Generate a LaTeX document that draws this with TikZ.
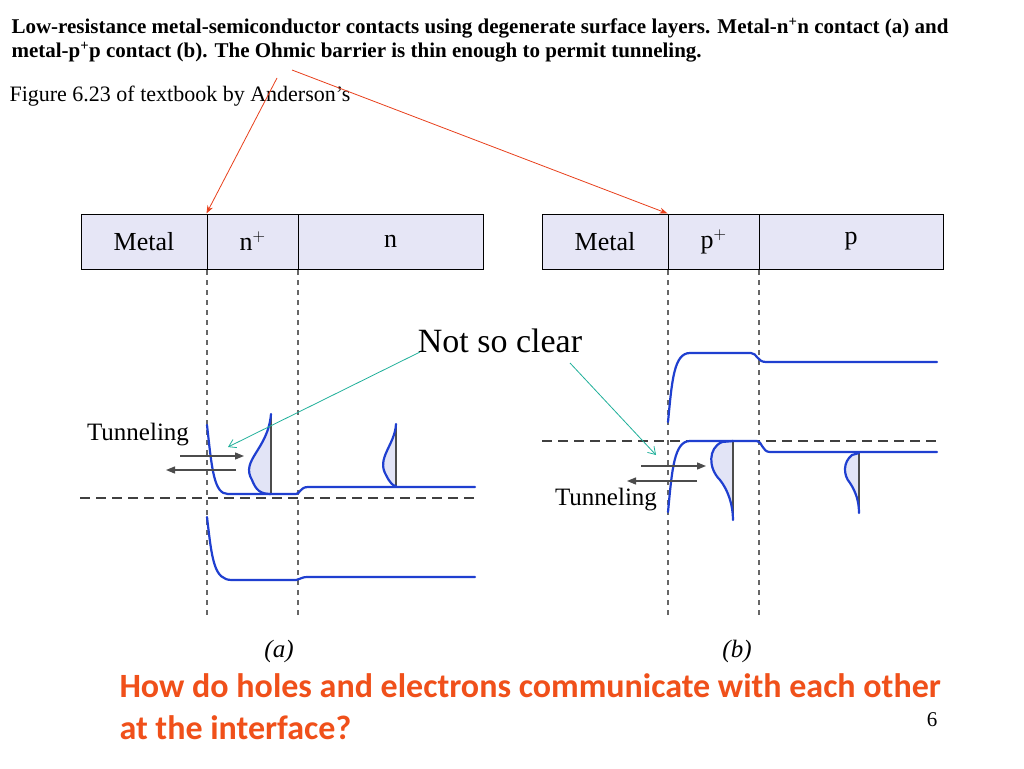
\documentclass[tikz,border=0pt]{standalone}
\usepackage{fontspec}
\setmainfont{Liberation Serif}
\newfontfamily\calib{Carlito}
\usetikzlibrary{arrows.meta}
\definecolor{band}{HTML}{1F3FD0}
\definecolor{tealc}{HTML}{20B09A}
\definecolor{redc}{HTML}{E8401C}
\definecolor{qcol}{HTML}{F0501A}
\definecolor{fillb}{HTML}{E2E4F6}
\definecolor{boxf}{HTML}{E6E6F6}
\tikzset{
 bnd/.style={band,line width=2.2pt,line cap=round},
 vdash/.style={gray!80!black,dashed,line width=1.2pt,dash pattern=on 5pt off 5pt},
 fdash/.style={black!75,line width=1.5pt,dash pattern=on 10pt off 6pt},
 tarr/.style={black!70,line width=1.3pt,-{Triangle[length=9pt,width=7pt]}},
 lbl/.style={font=\fontsize{25}{27}\selectfont},
 cell/.style={draw,line width=1pt,fill=boxf,minimum height=55pt,inner sep=0pt,font=\fontsize{26}{28}\selectfont},
}
\begin{document}
\begin{tikzpicture}[x=1pt,y=-1pt]
\useasboundingbox (0,0) rectangle (1024,768);
\fill[white] (0,0) rectangle (1024,768);
% title
\node[anchor=west,font=\bfseries\fontsize{21}{23}\selectfont] (t1) at (8,28) {Low-resistance metal-semiconductor contacts using degenerate surface layers. Metal-n\textsuperscript{+}n contact (a) and};
\node[anchor=west,font=\bfseries\fontsize{21}{23}\selectfont] (t2) at (8,52) {metal-p\textsuperscript{+}p contact (b). The Ohmic barrier is thin enough to permit tunneling.};
\node[anchor=west,font=\fontsize{22}{24}\selectfont] (t3) at (6,96) {Figure 6.23 of textbook by Anderson's};
% boxes
\node[cell,minimum width=126pt] (m1) at (144,241.5) {Metal};
\node[cell,minimum width=91pt] (np) at (252.5,241.5) {n$^+$};
\node[cell,minimum width=185pt] (n) at (390.5,241.5) {n};
\node[cell,minimum width=126pt] (m2) at (605,241.5) {Metal};
\node[cell,minimum width=91pt] (pp) at (713.5,241.5) {p$^+$};
\node[cell,minimum width=184pt] (p) at (851,241.5) {p};
% dashed verticals
\foreach \x in {207,298,668,759} \draw[vdash] (\x,270) -- (\x,615);
% left band diagram
\draw[fdash] (80,498) -- (477,498);
\fill[fillb] (271,414) .. controls (268,450) and (240,460) .. (252,480) .. controls (256,490) and (260,494) .. (271,494) -- cycle;
\fill[fillb] (396,424) .. controls (395,445) and (376,458) .. (386,475) .. controls (390,483) and (393,486) .. (396,486) -- cycle;
\draw[black!70,line width=1.2pt] (271,414) -- (271,494);
\draw[black!70,line width=1.2pt] (396,424) -- (396,486);
\draw[bnd] (271,414) .. controls (268,450) and (240,460) .. (252,480) .. controls (256,490) and (260,494) .. (271,494);
\draw[bnd] (396,424) .. controls (395,445) and (376,458) .. (386,475) .. controls (390,483) and (393,486) .. (396,486);
\draw[bnd] (207,425) .. controls (212,470) and (214,494) .. (228,494) -- (296,494) .. controls (300,494) and (300,487) .. (308,487) -- (475,487);
\draw[bnd] (207,517) .. controls (212,560) and (214,580) .. (232,580) -- (296,580) .. controls (300,580) and (300,577) .. (308,577) -- (475,577);
\node[lbl] (tl) at (138,435) {Tunneling};
\coordinate (a1s) at (180,456); \coordinate (a1e) at (244,456);
\coordinate (a2s) at (236,470); \coordinate (a2e) at (166,470);
\draw[tarr] (a1s) -- (a1e);
\draw[tarr] (a2s) -- (a2e);
% right band diagram
\draw[fdash] (542,441) -- (937,441);
\fill[fillb] (733,441) -- (722,442) .. controls (708,448) and (708,468) .. (720,480) .. controls (728,490) and (733,505) .. (733,520) -- cycle;
\fill[fillb] (859,453) -- (852,455) .. controls (843,462) and (843,475) .. (850,483) .. controls (856,492) and (859,502) .. (859,513) -- cycle;
\draw[black!70,line width=1.2pt] (733,441) -- (733,520);
\draw[black!70,line width=1.2pt] (859,453) -- (859,513);
\draw[bnd] (733,441) -- (722,442) .. controls (708,448) and (708,468) .. (720,480) .. controls (728,490) and (733,505) .. (733,520);
\draw[bnd] (859,453) -- (852,455) .. controls (843,462) and (843,475) .. (850,483) .. controls (856,492) and (859,502) .. (859,513);
\draw[bnd] (668,422) .. controls (672,380) and (674,353) .. (690,353) -- (751,353) .. controls (757,353) and (757,362) .. (766,362) -- (937,362);
\draw[bnd] (668,512) .. controls (672,470) and (674,441) .. (690,441) -- (757,441) .. controls (762,441) and (762,452) .. (770,452) -- (937,452);
\node[lbl] (tr) at (606,500) {Tunneling};
\coordinate (b1s) at (641,466); \coordinate (b1e) at (706,466);
\coordinate (b2s) at (697,481); \coordinate (b2e) at (627,481);
\draw[tarr] (b1s) -- (b1e);
\draw[tarr] (b2s) -- (b2e);
% captions
\node[font=\itshape\fontsize{25}{27}\selectfont] (ca) at (279,651) {(a)};
\node[font=\itshape\fontsize{25}{27}\selectfont] (cb) at (737,651) {(b)};
% annotations
\node[font=\fontsize{34}{36}\selectfont] (nsc) at (500,341) {Not so clear};
\coordinate (na) at (420,352);
\coordinate (ta1) at (228,447); \coordinate (ta2) at (656,455);
\draw[tealc,line width=0.8pt,-{Straight Barb[length=7pt,width=9pt]}] (na) -- (ta1);
\draw[tealc,line width=0.8pt,-{Straight Barb[length=7pt,width=9pt]}] (570,363) -- (ta2);
\coordinate (r1) at (277,78); \coordinate (r2) at (292,70);
\draw[redc,line width=0.8pt,-{Stealth[length=8pt,width=6pt]}] (r1) -- (np.north west);
\draw[redc,line width=0.8pt,-{Stealth[length=8pt,width=6pt]}] (r2) -- (pp.north west);
\node[anchor=west,align=left,text=qcol,font=\calib\bfseries\fontsize{34}{42}\selectfont] (q) at (116,707) {How do holes and electrons communicate with each other\\at the interface?};
\node[font=\fontsize{21}{23}\selectfont] (pg) at (932,720) {6};
\end{tikzpicture}
\end{document}
